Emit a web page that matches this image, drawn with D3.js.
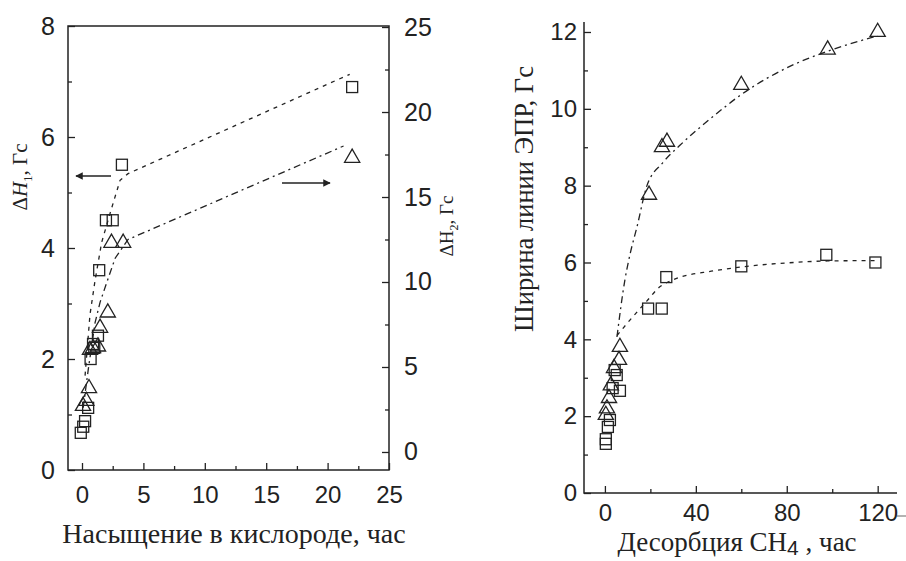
<!DOCTYPE html>
<html>
<head>
<meta charset="utf-8">
<script src="https://cdnjs.cloudflare.com/ajax/libs/d3/7.8.5/d3.min.js"></script>
<style>
  body { margin: 0; background: #fff; }
  svg { display: block; }
  .tick text { font-family: "Liberation Sans", Arial, sans-serif; fill: #222; }
  .tick line { stroke: #222; }
  .ttl { font-family: "Liberation Serif", "Times New Roman", serif; fill: #222; }
</style>
</head>
<body>
<div id="chart"></div>
<script>
// ---- left panel: oxygen saturation ----
var satSqX = [22.0, 3.25, 1.95, 2.5, 1.4, 1.3, 1.0, 0.9, 0.7, 0.5, 0.25, 0.1, -0.1];
var satSqY = [6.9, 5.5, 4.5, 4.5, 3.6, 2.42, 2.2, 2.27, 2.0, 1.12, 0.88, 0.78, 0.67];
var satTrX = [22.0, 2.4, 3.35, 2.1, 1.47, 1.3, 0.9, 0.65, 0.57, 0.35, 0.08];
var satTrY = [17.3, 12.3, 12.3, 8.2, 7.3, 6.2, 6.1, 6.0, 3.75, 3.0, 2.7];
// fitted guide lines
var satSqFitX = [0.25, 0.65, 1.06, 1.6, 2.28, 3.1, 3.75, 21.8];
var satSqFitY = [1.7, 2.8, 3.41, 4.1, 4.62, 5.22, 5.34, 7.13];
var satTrFitX = [0.1, 0.5, 1.06, 1.47, 2.0, 2.7, 3.75, 21.3];
var satTrFitY = [2.6, 4.8, 7.6, 8.8, 9.94, 11.4, 12.5, 18.0];
var satXTicks = [0, 5, 10, 15, 20, 25];
var satY1Ticks = [0, 2, 4, 6, 8];
var satY2Ticks = [0, 5, 10, 15, 20, 25];

// ---- right panel: CH4 desorption ----
var desTrX = [120, 98, 60, 27.3, 25.1, 19.4, 6.6, 6.2, 4.0, 2.6, 1.8, 0.9, 0.4];
var desTrY = [12.0, 11.54, 10.62, 9.14, 9.0, 7.76, 3.8, 3.46, 3.25, 2.8, 2.47, 2.2, 2.03];
var desSqX = [119, 97.4, 60, 27, 19, 25, 5.2, 4.3, 6.6, 3.4, 2.2, 1.3, 0.4, 0.4];
var desSqY = [6.0, 6.2, 5.9, 5.62, 4.8, 4.8, 3.07, 3.2, 2.66, 2.73, 1.9, 1.72, 1.4, 1.28];
var desTrFitX = [5.3, 8.8, 11, 14, 18.5, 25.5, 33, 47.6, 59.5, 83, 98, 120];
var desTrFitY = [4.06, 5.55, 6.2, 6.9, 8.0, 8.6, 9.05, 9.8, 10.35, 11.15, 11.5, 11.9];
var desSqFitX = [5.3, 11, 18.5, 24, 30, 47.6, 59.5, 83, 98, 120];
var desSqFitY = [4.1, 4.5, 5.0, 5.36, 5.55, 5.78, 5.88, 6.0, 6.04, 6.05];
var desXTicks = [0, 40, 80, 120];
var desYTicks = [0, 2, 4, 6, 8, 10, 12];

var W = 906, H = 561;
var svg = d3.select("#chart").append("svg").attr("width", W).attr("height", H);
var ink = "#222";

function zip(xs, ys) { return xs.map(function (x, i) { return { x: x, y: ys[i] }; }); }

function drawSquares(g, data, x, y, s) {
    g.append("g").selectAll("rect").data(data).enter().append("rect")
        .attr("x", function (d) { return x(d.x) - s / 2; })
        .attr("y", function (d) { return y(d.y) - s / 2; })
        .attr("width", s).attr("height", s)
        .attr("fill", "none").attr("stroke", ink).attr("stroke-width", 1.3);
}
function drawTriangles(g, data, x, y, s) {
    var sym = d3.symbol().type(d3.symbolTriangle).size(s);
    g.append("g").selectAll("path").data(data).enter().append("path")
        .attr("d", sym)
        .attr("transform", function (d) { return "translate(" + x(d.x) + "," + y(d.y) + ")"; })
        .attr("fill", "none").attr("stroke", ink).attr("stroke-width", 1.3);
}
function drawFit(g, data, x, y, dash, curve) {
    var line = d3.line().x(function (d) { return x(d.x); }).y(function (d) { return y(d.y); })
        .curve(curve);
    g.append("path").datum(data).attr("d", line)
        .attr("fill", "none").attr("stroke", ink).attr("stroke-width", 1.3)
        .attr("stroke-dasharray", dash);
}
function styleAxis(a, size) {
    a.select(".domain").remove();
    a.selectAll(".tick text").style("font-size", size + "px");
    a.selectAll(".tick line").attr("stroke-width", 1.3);
}

// ================= LEFT PANEL =================
var L = { left: 68, right: 389, top: 26, bottom: 470 };
var x1 = d3.scaleLinear().domain([-1.14, 25]).range([L.left, L.right]);
var yA = d3.scaleLinear().domain([0, 8]).range([L.bottom, L.top]);
var yB = d3.scaleLinear().domain([-1.06, 25.06]).range([L.bottom, L.top]);
var gL = svg.append("g");

// minor ticks
gL.append("g").attr("transform", "translate(0," + L.bottom + ")")
    .call(d3.axisBottom(x1).tickValues([2.5, 7.5, 12.5, 17.5, 22.5]).tickSize(-4).tickFormat(""))
    .call(styleAxis, 24);
gL.append("g").attr("transform", "translate(" + L.left + ",0)")
    .call(d3.axisLeft(yA).tickValues([1, 3, 5, 7]).tickSize(-4).tickFormat(""))
    .call(styleAxis, 24);
gL.append("g").attr("transform", "translate(" + L.right + ",0)")
    .call(d3.axisRight(yB).tickValues([2.5, 7.5, 12.5, 17.5, 22.5]).tickSize(-4).tickFormat(""))
    .call(styleAxis, 24);
// major ticks
var ax = gL.append("g").attr("transform", "translate(0," + L.bottom + ")")
    .call(d3.axisBottom(x1).tickValues(satXTicks).tickSize(-7).tickPadding(16))
    .call(styleAxis, 24);
ax.selectAll(".tick text").attr("dy", "0.71em");
gL.append("g").attr("transform", "translate(" + L.left + ",0)")
    .call(d3.axisLeft(yA).tickValues(satY1Ticks).tickSize(-7).tickPadding(13))
    .call(styleAxis, 25);
gL.append("g").attr("transform", "translate(" + L.right + ",0)")
    .call(d3.axisRight(yB).tickValues(satY2Ticks).tickSize(-7).tickPadding(15))
    .call(styleAxis, 25);
// frame
gL.append("rect").attr("x", L.left).attr("y", L.top)
    .attr("width", L.right - L.left).attr("height", L.bottom - L.top)
    .attr("fill", "none").attr("stroke", ink).attr("stroke-width", 1.5);

drawFit(gL, zip(satSqFitX, satSqFitY), x1, yA, "4,5", d3.curveLinear);
drawFit(gL, zip(satTrFitX, satTrFitY), x1, yB, "7,4,2,4", d3.curveLinear);
drawSquares(gL, zip(satSqX, satSqY), x1, yA, 11);
drawTriangles(gL, zip(satTrX, satTrY), x1, yB, 100);

// arrows
var defs = svg.append("defs");
defs.append("marker").attr("id", "ah").attr("viewBox", "0 0 10 10")
    .attr("refX", 9).attr("refY", 5).attr("markerWidth", 7).attr("markerHeight", 5)
    .attr("orient", "auto").append("path").attr("d", "M0,0L10,5L0,10Z").attr("fill", ink);
gL.append("line").attr("x1", 111).attr("y1", 176).attr("x2", 76).attr("y2", 176)
    .attr("stroke", ink).attr("stroke-width", 1.5).attr("marker-end", "url(#ah)");
gL.append("line").attr("x1", 282).attr("y1", 183).attr("x2", 330).attr("y2", 183)
    .attr("stroke", ink).attr("stroke-width", 1.5).attr("marker-end", "url(#ah)");

// titles
var t1 = gL.append("text").attr("class", "ttl").attr("font-size", 21)
    .attr("transform", "translate(27,177) rotate(-90)").attr("text-anchor", "middle");
t1.append("tspan").text("\u0394");
t1.append("tspan").attr("font-style", "italic").text("H");
t1.append("tspan").attr("font-size", 13).attr("dy", 5).text("1");
t1.append("tspan").attr("dy", -5).text(", \u0413\u0441");

var t2 = gL.append("text").attr("class", "ttl").attr("font-size", 19)
    .attr("transform", "translate(453,226) rotate(-90)").attr("text-anchor", "middle");
t2.append("tspan").text("\u0394H");
t2.append("tspan").attr("font-size", 12).attr("dy", 5).text("2");
t2.append("tspan").attr("dy", -5).text(", \u0413\u0441");

gL.append("text").attr("class", "ttl").attr("font-size", 28)
    .attr("x", 234).attr("y", 543).attr("text-anchor", "middle")
    .text("\u041d\u0430\u0441\u044b\u0449\u0435\u043d\u0438\u0435 \u0432 \u043a\u0438\u0441\u043b\u043e\u0440\u043e\u0434\u0435, \u0447\u0430\u0441");

// ================= RIGHT PANEL =================
var R = { left: 584, right: 897, top: 22, bottom: 493 };
var x2 = d3.scaleLinear().domain([-9.2, 128.5]).range([R.left, R.right]);
var y2 = d3.scaleLinear().domain([0, 12.26]).range([R.bottom, R.top]);
var gR = svg.append("g");

gR.append("g").attr("transform", "translate(0," + R.bottom + ")")
    .call(d3.axisBottom(x2).tickValues([20, 60, 100]).tickSize(-4).tickFormat(""))
    .call(styleAxis, 24);
gR.append("g").attr("transform", "translate(" + R.left + ",0)")
    .call(d3.axisLeft(y2).tickValues([1, 3, 5, 7, 9, 11]).tickSize(-4).tickFormat(""))
    .call(styleAxis, 24);
var bx = gR.append("g").attr("transform", "translate(0," + R.bottom + ")")
    .call(d3.axisBottom(x2).tickValues(desXTicks).tickSize(-7).tickPadding(11))
    .call(styleAxis, 24);
bx.selectAll(".tick text").attr("dy", "0.71em");
gR.append("g").attr("transform", "translate(" + R.left + ",0)")
    .call(d3.axisLeft(y2).tickValues(desYTicks).tickSize(-7).tickPadding(7))
    .call(styleAxis, 24);
gR.append("path")
    .attr("d", "M" + R.left + "," + R.top + "V" + R.bottom + "H" + R.right)
    .attr("fill", "none").attr("stroke", ink).attr("stroke-width", 1.5);
// small stray dash after last label
gR.append("line").attr("x1", R.right).attr("x2", R.right + 9)
    .attr("y1", R.bottom + 23).attr("y2", R.bottom + 23)
    .attr("stroke", "#666").attr("stroke-width", 1);

drawFit(gR, zip(desSqFitX, desSqFitY), x2, y2, "4,5", d3.curveMonotoneX);
drawFit(gR, zip(desTrFitX, desTrFitY), x2, y2, "7,4,2,4", d3.curveMonotoneX);
drawSquares(gR, zip(desSqX, desSqY), x2, y2, 11);
drawTriangles(gR, zip(desTrX, desTrY), x2, y2, 100);

gR.append("text").attr("class", "ttl").attr("font-size", 26.5)
    .attr("transform", "translate(533,199) rotate(-90)").attr("text-anchor", "middle")
    .text("\u0428\u0438\u0440\u0438\u043d\u0430 \u043b\u0438\u043d\u0438\u0438 \u042d\u041f\u0420, \u0413\u0441");

var t3 = gR.append("text").attr("class", "ttl").attr("font-size", 27)
    .attr("x", 737).attr("y", 551).attr("text-anchor", "middle");
t3.append("tspan").text("\u0414\u0435\u0441\u043e\u0440\u0431\u0446\u0438\u044f CH");
t3.append("tspan").attr("font-family", "Liberation Sans, Arial, sans-serif")
    .attr("font-size", 21).attr("dy", 4).text("4");
t3.append("tspan").attr("dy", -4).text(" , \u0447\u0430\u0441");
</script>
</body>
</html>
